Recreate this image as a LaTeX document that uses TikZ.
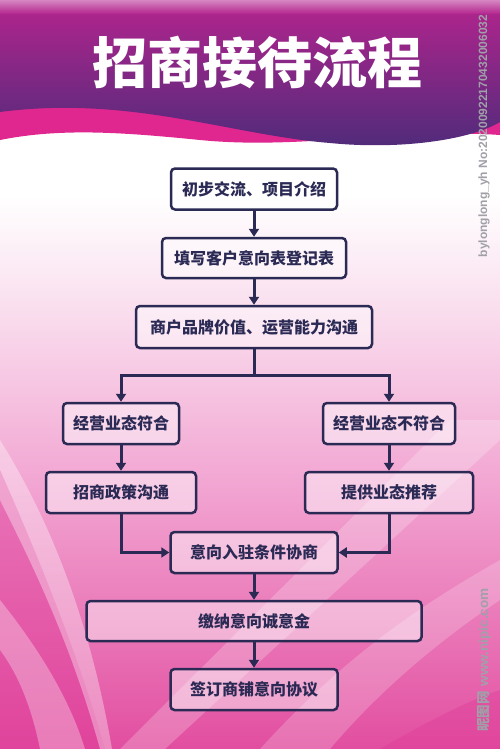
\documentclass[tikz,border=0pt]{standalone}
\usepackage{fontspec}
\newfontfamily\cjk{Noto Sans CJK SC}
\newfontfamily\wmfont{Liberation Sans}
\usetikzlibrary{arrows.meta}
\definecolor{navy}{HTML}{2B2A55}
\definecolor{bbot}{RGB}{226,78,160}
\definecolor{bmid}{RGB}{242,165,210}
\definecolor{bpale}{RGB}{250,226,240}
\definecolor{magband}{RGB}{224,38,143}
\definecolor{ptop}{RGB}{180,36,142}
\definecolor{pbot}{RGB}{78,43,122}
\definecolor{mag}{RGB}{222,55,150}
\definecolor{wm}{RGB}{160,160,168}
\pgfdeclareverticalshading{bodyshade}{100bp}{color(0bp)=(bbot); color(25bp)=(bbot); color(46bp)=(bmid); color(61bp)=(bpale); color(69bp)=(white); color(100bp)=(white)}
\begin{document}
\begin{tikzpicture}[x=1pt,y=-1pt,
  box/.style={draw=navy, line width=2.5pt, rounded corners=4pt, fill=white, fill opacity=0.45, text opacity=1, text=navy, font=\cjk\bfseries\fontsize{16}{18}\selectfont, minimum height=41pt, inner sep=0pt},
  arr/.style={draw=navy, line width=3pt, -{Triangle[length=8pt,width=10pt]}},
  ln/.style={draw=navy, line width=3pt}]
\useasboundingbox (0,0) rectangle (500,749);
% body background
\shade[shading=bodyshade] (0,120) rectangle (500,749);
\fill[mag, opacity=.45] (0,470) .. controls (40,560) and (80,660) .. (105,749) -- (0,749) -- cycle;
\fill[white, opacity=.35] (0,440) .. controls (50,520) and (90,620) .. (112,749) -- (100,749) .. controls (70,640) and (30,560) .. (0,500) -- cycle;
\fill[white, opacity=.3] (0,600) .. controls (40,650) and (70,700) .. (85,749) -- (40,749) .. controls (30,700) and (15,670) .. (0,650) -- cycle;
\fill[white, opacity=.22] (120,749) -- (450,420) -- (500,420) -- (500,440) -- (165,749) -- cycle;
\fill[white, opacity=.2] (260,749) .. controls (350,650) and (430,600) .. (500,560) -- (500,600) .. controls (440,640) and (380,690) .. (330,749) -- cycle;
\fill[mag, opacity=.35] (380,749) .. controls (430,720) and (470,700) .. (500,690) -- (500,749) -- cycle;
% header
\fill[magband] (0,0) -- (500,0) -- (500,135) .. controls (400,128) and (300,150) .. (200,140) .. controls (120,132) and (60,128) .. (0,140) -- cycle;
\shade[top color=ptop, bottom color=pbot] (0,0) -- (500,0) -- (500,122) .. controls (470,140) and (400,150) .. (330,143) .. controls (230,135) and (130,95) .. (0,112) -- cycle;
\shade[top color=ptop!55!white, bottom color=ptop] (0,0) rectangle (500,14);
\node[text=white, font=\cjk\bfseries\fontsize{55}{60}\selectfont, inner sep=0pt] (title) at (257,62) {招商接待流程};
% watermarks
\node[rotate=90, text=wm, font=\wmfont\bfseries\fontsize{12}{13}\selectfont, inner sep=0pt] (wm1) at (484,136) {bylonglong\_yh No:20200922170432006032};
\node[rotate=90, text=wm, font=\bfseries\fontsize{13.5}{14}\selectfont, inner sep=0pt] (wm2) at (484,660) {{\cjk 昵图网} \wmfont www.nipic.com};
% boxes
\node[box, minimum width=166pt] (b1) at (254,189) {初步交流、项目介绍};
\node[box, minimum width=184pt, minimum height=40pt] (b2) at (254,258) {填写客户意向表登记表};
\node[box, minimum width=236pt, minimum height=42pt] (b3) at (254,327) {商户品牌价值、运营能力沟通};
\node[box, minimum width=116pt] (b4) at (121,423.5) {经营业态符合};
\node[box, minimum width=132pt] (b5) at (389,423.5) {经营业态不符合};
\node[box, minimum width=150pt] (b6) at (121,492.5) {招商政策沟通};
\node[box, minimum width=168pt] (b7) at (389,492.5) {提供业态推荐};
\node[box, minimum width=167pt] (b8) at (254,552.5) {意向入驻条件协商};
\node[box, minimum width=335pt, minimum height=40pt] (b9) at (254,621) {缴纳意向诚意金};
\node[box, minimum width=167pt] (b10) at (254,689.5) {签订商铺意向协议};
% connectors
\coordinate (bj) at (254,375);
\draw[arr] (b1) -- (b2);
\draw[arr] (b2) -- (b3);
\draw[ln] (b3.south) -- (bj);
\draw[arr] (bj) -| (b4.north);
\draw[arr] (bj) -| (b5.north);
\draw[arr] (b4) -- (b6);
\draw[arr] (b5) -- (b7);
\draw[arr] (b6.south) |- (b8.west);
\draw[arr] (b7.south) |- (b8.east);
\draw[arr] (b8) -- (b9);
\draw[arr] (b9) -- (b10);
\end{tikzpicture}
\end{document}
